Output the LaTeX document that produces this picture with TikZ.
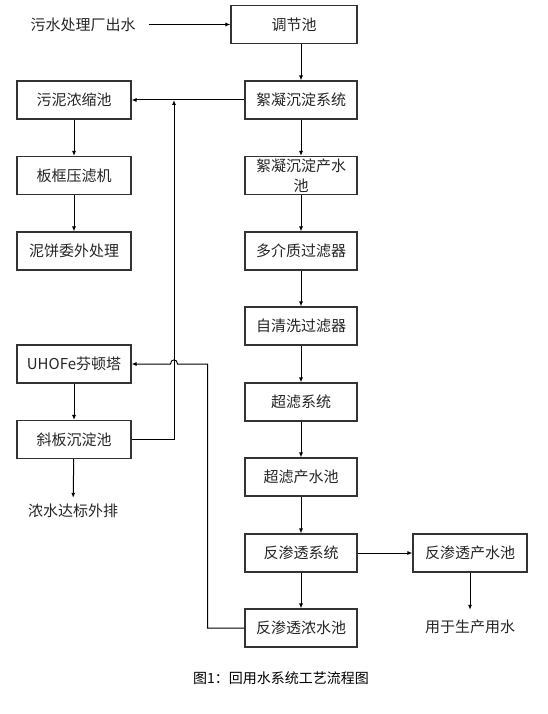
\documentclass[tikz,border=0pt]{standalone}
\usepackage{fontspec}
\setmainfont{Noto Sans CJK SC}
\usetikzlibrary{arrows.meta}
\begin{document}
\begin{tikzpicture}[x=1pt,y=-1pt,
  box/.style={draw=black!80, line width=1.1pt, minimum height=38pt, inner sep=0pt,
              font=\fontsize{15}{17}\selectfont, text=black!85},
  lbox/.style={box, minimum width=114pt},
  rbox/.style={box, minimum width=112pt},
  lbl/.style={font=\fontsize{15}{17}\selectfont, text=black!85, inner sep=0pt},
  arr/.style={-{Latex[length=5pt,width=4pt]}, line width=1pt},
  ln/.style={line width=1pt}]
\useasboundingbox[fill=white] (0,0) rectangle (548,714);

% right column
\node[box, minimum width=126pt] (tj) at (294,24.5) {调节池};
\node[rbox] (r1) at (301,100) {絮凝沉淀系统};
\node[rbox, align=center, font=\fontsize{15}{20}\selectfont] (r2) at (301,175.5) {絮凝沉淀产水\\池};
\node[rbox] (r3) at (301,251) {多介质过滤器};
\node[rbox] (r4) at (301,326) {自清洗过滤器};
\node[rbox] (r5) at (301,402) {超滤系统};
\node[rbox] (r6) at (301,477) {超滤产水池};
\node[rbox] (r7) at (301,553) {反渗透系统};
\node[rbox] (r8) at (301,628) {反渗透浓水池};
\node[lbox] (p1) at (470,553) {反渗透产水池};
\node[lbl] (use) at (470,627) {用于生产用水};

% left column
\node[lbox] (l1) at (74,100) {污泥浓缩池};
\node[lbox] (l2) at (74,175.5) {板框压滤机};
\node[lbox] (l3) at (74,251) {泥饼委外处理};
\node[lbox] (l4) at (74,364) {UHOFe芬顿塔};
\node[lbox] (l5) at (74,439.5) {斜板沉淀池};
\node[lbl] (out) at (73,511) {浓水达标外排};

\node[lbl] (src) at (83,24.5) {污水处理厂出水};
\node[font=\fontsize{14}{16}\selectfont, inner sep=0pt] (cap) at (281,678) {图1：回用水系统工艺流程图};

% coordinates
\coordinate (j) at (174,100);
\coordinate (bend) at (207.5,364);
\coordinate (hr) at (177.5,364);
\coordinate (hl) at (170.5,364);

% connectors
\draw[arr] ([xshift=13pt]src.east) -- (tj.west);
\draw[arr] (tj.south -| r1.north) -- (r1.north);
\draw[arr] (r1) -- (r2);
\draw[arr] (r2) -- (r3);
\draw[arr] (r3) -- (r4);
\draw[arr] (r4) -- (r5);
\draw[arr] (r5) -- (r6);
\draw[arr] (r6) -- (r7);
\draw[arr] (r7) -- (r8);
\draw[arr] (r7) -- (p1);
\draw[arr, shorten >=10pt] (p1) -- (use);

\draw[arr] (r1.west) -- (l1.east);
\draw[arr] (l1) -- (l2);
\draw[arr] (l2) -- (l3);
\draw[arr] (l4) -- (l5);
\draw[arr, shorten >=6pt] (l5) -- (out);
\draw[arr] (l5.east) -| (j);

\draw[arr] (r8.west) -| (bend) -- (hr) .. controls (177.5,358.5) and (170.5,358.5) .. (hl) -- (l4.east);
\end{tikzpicture}
\end{document}
